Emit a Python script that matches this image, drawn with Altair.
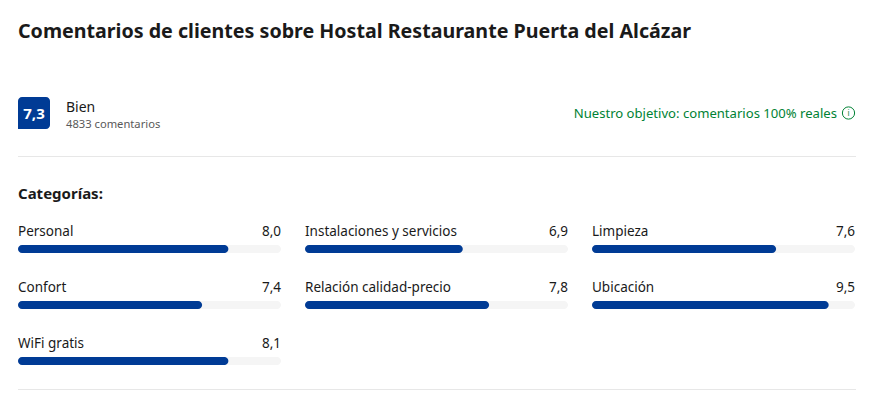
import altair as alt
import pandas as pd

# Review categories, in reading order
categories = ["Personal", "Instalaciones y servicios", "Limpieza", "Confort",
              "Relación calidad-precio", "Ubicación", "WiFi gratis"]
# Printed scores
score_labels = ["8,0", "6,9", "7,6", "7,4", "7,8", "9,5", "8,1"]
# Bar lengths as drawn in the picture (on the 0-10 scale)
bar_lengths = [8, 6, 7, 7, 7, 9, 8]
scale_max = [10] * 7
scale_min = [0] * 7

title_text = ["Comentarios de clientes sobre Hostal Restaurante Puerta del Alcázar"]
rating_text = ["7,3"]
word_text = ["Bien"]
count_text = ["4833 comentarios"]
goal_text = ["Nuestro objetivo: comentarios 100% reales"]
section_text = ["Categorías:"]

FONT = "Noto Sans"
INK = "#1a1a1a"
BLUE = "#003b95"
GREEN = "#008234"
GREY = "#595959"
RULE = "#e7e7e7"
TRACK = "#f5f5f5"
W = 838
PW = 263


def txt(values, x, y, size, color=INK, weight=400, align="left"):
    return (
        alt.Chart(pd.DataFrame({"t": values}))
        .mark_text(font=FONT, fontSize=size, color=color, fontWeight=weight,
                   align=align, baseline="middle")
        .encode(x=alt.value(x), y=alt.value(y), text="t:N")
    )


one = pd.DataFrame({"v": [0]})

badge = (
    alt.Chart(one)
    .mark_rect(color=BLUE, cornerRadiusTopLeft=4, cornerRadiusTopRight=4,
               cornerRadiusBottomRight=4, cornerRadiusBottomLeft=0)
    .encode(x=alt.value(0), x2=alt.value(32), y=alt.value(89), y2=alt.value(121))
)
divider = (
    alt.Chart(one)
    .mark_rule(color=RULE, strokeWidth=1)
    .encode(x=alt.value(0), x2=alt.value(W), y=alt.value(148.5))
)
icon = (
    alt.Chart(one)
    .mark_point(shape="circle", size=150, color=GREEN, strokeWidth=1, filled=False, opacity=1)
    .encode(x=alt.value(830.5), y=alt.value(105))
)

header = alt.layer(
    txt(title_text, 0, 24, 19.65, weight=700),
    badge,
    txt(rating_text, 16, 105.5, 15, color="#ffffff", weight=700, align="center"),
    txt(word_text, 48, 100, 14),
    txt(count_text, 48, 117, 11.2, color=GREY),
    txt(goal_text, 819, 105.5, 13.1, color=GREEN, align="right"),
    icon,
    txt(["i"], 830.5, 105.5, 8, color=GREEN, align="center"),
    divider,
    txt(section_text, 0, 186, 15, weight=700),
).properties(width=W, height=214)

df = pd.DataFrame({"cat": categories, "score": score_labels, "start": scale_min,
                   "fill": bar_lengths, "full": scale_max})
xs = alt.Scale(domain=[0, 10], nice=False, zero=False)


def panel(i):
    base = alt.Chart(df.iloc[[i]])
    track = base.mark_rect(color=TRACK, cornerRadius=4).encode(
        x=alt.X("start:Q", scale=xs, axis=None), x2="full:Q",
        y=alt.value(23), y2=alt.value(31))
    bar = base.mark_rect(color=BLUE, cornerRadius=4).encode(
        x=alt.X("start:Q", scale=xs, axis=None), x2="fill:Q",
        y=alt.value(23), y2=alt.value(31))
    name = base.mark_text(font=FONT, fontSize=13.5, color=INK, align="left", baseline="middle").encode(
        x=alt.value(0), y=alt.value(9.5), text="cat:N")
    score = base.mark_text(font=FONT, fontSize=13.5, color=INK, align="right", baseline="middle").encode(
        x=alt.value(PW), y=alt.value(9.5), text="score:N")
    return alt.layer(track, bar, name, score).properties(width=PW, height=32)


rows = [
    alt.hconcat(*[panel(i) for i in range(s, min(s + 3, len(categories)))], spacing=24)
    for s in range(0, len(categories), 3)
]
panels = alt.vconcat(*rows, spacing=24)

footer = (
    alt.Chart(one)
    .mark_rule(color=RULE, strokeWidth=1)
    .encode(x=alt.value(0), x2=alt.value(W), y=alt.value(23.5))
    .properties(width=W, height=24)
)

chart = (
    alt.vconcat(header, panels, footer, spacing=0)
    .properties(padding={"left": 9, "top": 0, "right": 0, "bottom": 0},
                background="#ffffff")
    .configure_view(stroke=None)
)
chart.save("out.html", embed_options={"renderer": "svg", "actions": False})
